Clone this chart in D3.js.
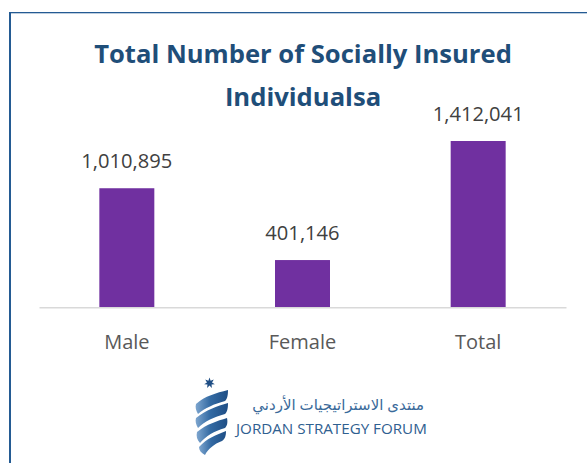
<!DOCTYPE html>
<html><head><meta charset="utf-8">
<script src="https://cdn.jsdelivr.net/npm/d3@7"></script>
<style>html,body{margin:0;padding:0;background:#fff;}svg{display:block;}</style>
</head><body>
<svg id="c" width="587" height="463"></svg>
<script>
const categories = ["Male", "Female", "Total"];
const values = [1010895, 401146, 1412041];
const valueLabels = ["1,010,895", "401,146", "1,412,041"];
const titleLines = ["Total Number of Socially Insured", "Individualsa"];
const logoArabic = "منتدى الاستراتيجيات الأردني";
const logoEnglish = "JORDAN STRATEGY FORUM";

const svg = d3.select("#c");
const W = 587, H = 463;

// frame
svg.append("rect").attr("x", 9).attr("y", 12).attr("width", 2).attr("height", H - 12).attr("fill", "#245b93");
svg.append("rect").attr("x", 9).attr("y", 12).attr("width", W - 9).attr("height", 1.3).attr("fill", "#245b93");

// title
const title = svg.append("g");
const tY = [63.3, 105.5];
titleLines.forEach((t, i) => {
  title.append("text")
    .attr("x", 303).attr("y", tY[i])
    .attr("text-anchor", "middle")
    .attr("font-family", "'Open Sans', sans-serif")
    .attr("font-weight", 700)
    .attr("font-size", 25)
    .attr("fill", "#1f4e79")
    .text(t);
});
{
  const first = title.select("text").node();
  const w = first.getComputedTextLength();
  title.selectAll("text").attr("font-size", 25 * 418 / w);
}

// scales
const x = d3.scaleBand().domain(categories).range([39, 566]).paddingInner(0.687).paddingOuter(0.3435);
const y = d3.scaleLinear().domain([0, 1412041]).range([307.3, 141]);

// bars
svg.append("g").selectAll("rect").data(values).join("rect")
  .attr("x", (d, i) => x(categories[i]))
  .attr("y", d => y(d))
  .attr("width", x.bandwidth())
  .attr("height", d => y(0) - y(d))
  .attr("fill", "#7030a0");

// axis
const axis = svg.append("g").attr("transform", `translate(0,${y(0)})`)
  .call(d3.axisBottom(x).tickSize(0).tickPadding(0));
axis.select(".domain").attr("stroke", "#d9d9d9").attr("stroke-width", 1.6);
axis.selectAll(".tick text")
  .attr("dy", 0).attr("y", 349 - y(0))
  .attr("font-family", "'Open Sans', sans-serif")
  .attr("font-size", 20)
  .attr("fill", "#595959");

// value labels
const vl = svg.append("g").selectAll("text").data(values).join("text")
  .attr("x", (d, i) => x(categories[i]) + x.bandwidth() / 2)
  .attr("y", d => y(d) - 20.5)
  .attr("text-anchor", "middle")
  .attr("font-family", "'Open Sans', sans-serif")
  .attr("font-size", 19.5)
  .attr("fill", "#404040")
  .text((d, i) => valueLabels[i]);
{
  const w = vl.node().getComputedTextLength();
  vl.attr("font-size", 19.5 * 91 / w);
}

// logo
const logo = svg.append("g");
const grad = svg.append("defs").append("linearGradient").attr("id", "lg")
  .attr("x1", "0").attr("y1", "0").attr("x2", "1").attr("y2", "0");
grad.append("stop").attr("offset", "0").attr("stop-color", "#7ea6cf");
grad.append("stop").attr("offset", "0.45").attr("stop-color", "#336aa3");
grad.append("stop").attr("offset", "1").attr("stop-color", "#1f4e85");

// star (7-point)
const cx = 209.5, cy = 383, ro = 5.5, ri = 2.6;
const pts = [];
for (let k = 0; k < 14; k++) {
  const a = -Math.PI / 2 + k * Math.PI / 7;
  const r = k % 2 === 0 ? ro : ri;
  pts.push([cx + r * Math.cos(a), cy + r * Math.sin(a)]);
}
logo.append("path").attr("d", d3.line()(pts) + "Z").attr("fill", "#1f4e85");

// ribbons
const ribbons = [
  "M196,404 C205,396 216,393 228,390 C228,396 227,399 225,401 C214,404 205,408 198,414 C196,411 195,407 196,404 Z",
  "M196,418 C206,410 217,406 228,403 C228,409 227,412 225,414 C214,417 205,421 198,428 C196,425 195,421 196,418 Z",
  "M197,432 C207,424 217,421 227,418 C228,423 227,426 225,428 C214,431 206,436 200,443 C197,440 196,436 197,432 Z",
  "M199,447 C207,438 216,435 226,431 C226,436 225,439 222,441 C214,444 208,449 205,455 C201,453 199,450 199,447 Z"
];
logo.selectAll("path.rb").data(ribbons).join("path").attr("class", "rb")
  .attr("d", d => d).attr("fill", "url(#lg)");

logo.append("text").attr("x", 424).attr("y", 410)
  .attr("text-anchor", "end")
  .attr("font-family", "'Noto Sans', 'DejaVu Sans', sans-serif")
  .attr("font-size", 15)
  .attr("fill", "#3a6a9a")
  .text(logoArabic);
const eng = logo.append("text").attr("x", 236).attr("y", 433.5)
  .attr("font-family", "'Open Sans', sans-serif")
  .attr("font-size", 16)
  .attr("fill", "#2f6090")
  .text(logoEnglish);
{
  const w = eng.node().getComputedTextLength();
  eng.attr("font-size", 16 * 191 / w);
}
</script>
</body></html>
